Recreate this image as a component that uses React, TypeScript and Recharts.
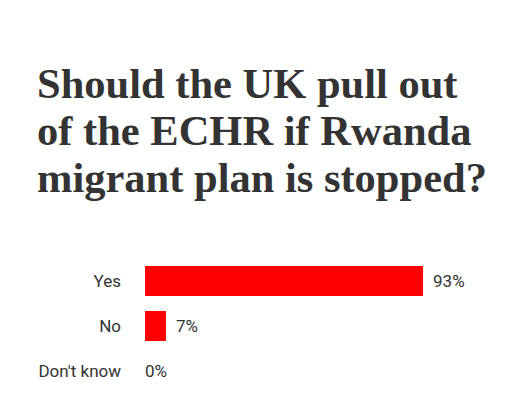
import React from 'react';
import { BarChart, Bar, XAxis, YAxis, LabelList } from 'recharts';

const answers = ['Yes', 'No', "Don't know"];
const shares = [93, 7, 0];

const data = answers.map((answer, i) => ({ answer, share: shares[i] }));

const renderValue = (props: any) => {
  const { x, y, width, height, value } = props;
  const gap = value > 0 ? 10 : 0;
  return (
    <text
      x={Number(x) + (value > 0 ? Number(width) : 0) + gap}
      y={Number(y) + Number(height) / 2}
      dominantBaseline="central"
      fill="#333"
      fontSize={17}
      fontFamily="Roboto, sans-serif"
    >
      {`${value}%`}
    </text>
  );
};

const App: React.FC = () => {
  return (
    <div style={{ position: 'absolute', left: 0, top: 0, width: 516, height: 413, background: '#fff' }}>
      <div
        style={{
          position: 'absolute',
          left: 37,
          top: 60,
          width: 475,
          fontFamily: '"Liberation Serif", serif',
          fontWeight: 700,
          fontSize: 42.5,
          lineHeight: '47px',
          color: '#333',
        }}
      >
        Should the UK pull out<br />of the ECHR if Rwanda<br />migrant plan is stopped?
      </div>
      <div style={{ position: 'absolute', left: 0, top: 258 }}>
        <BarChart
          width={516}
          height={135}
          data={data}
          layout="vertical"
          margin={{ top: 0, right: 72, bottom: 0, left: 0 }}
        >
          <XAxis type="number" domain={[0, 100]} hide />
          <YAxis
            type="category"
            dataKey="answer"
            width={145}
            axisLine={false}
            tickLine={false}
            tickSize={0}
            tickMargin={24}
            tick={{ fill: '#333', fontSize: 17, fontFamily: 'Roboto, sans-serif' }}
          />
          <Bar dataKey="share" fill="#ff0000" barSize={30} minPointSize={0.01} isAnimationActive={false}>
            <LabelList dataKey="share" content={renderValue} />
          </Bar>
        </BarChart>
      </div>
    </div>
  );
};

export default App;
